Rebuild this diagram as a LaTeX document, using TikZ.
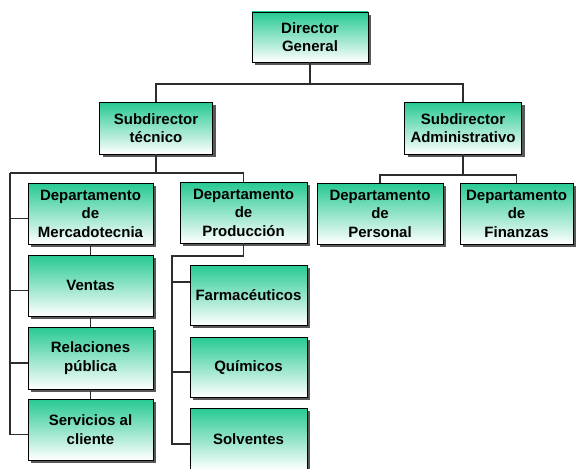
\documentclass[tikz,border=0pt]{standalone}
\usepackage{fontspec}
\setmainfont{Liberation Sans}
\usetikzlibrary{shadows}
\definecolor{verdeorg}{RGB}{38,201,146}
\definecolor{linea}{RGB}{45,45,45}
\tikzset{
  puesto/.style={draw=black, line width=0.9pt, top color=verdeorg, bottom color=white,
    align=center, inner sep=0pt, minimum width=125pt, minimum height=61pt,
    font=\bfseries\fontsize{15}{18.5}\selectfont,
    drop shadow={shadow xshift=3pt, shadow yshift=-3pt, fill=black!65, opacity=1}},
  enlace/.style={draw=linea, line width=1.1pt}
}
\begin{document}
\begin{tikzpicture}[x=1pt,y=-1pt]
\useasboundingbox (0,0) rectangle (577,468);
\fill[white] (0,0) rectangle (577,468);

% direccion
\node[puesto, minimum width=116pt, minimum height=50pt] (dg) at (310,37) {Director\\General};
\node[puesto, minimum width=113pt, minimum height=52pt] (subtec) at (156,128) {Subdirector\\técnico};
\node[puesto, minimum width=117pt, minimum height=52pt] (subadm) at (463,128) {Subdirector\\Administrativo};

% departamentos
\node[puesto] (merc) at (90.5,213.5) {Departamento\\de\\Mercadotecnia};
\node[puesto, minimum width=127pt] (prod) at (243.5,212.5) {Departamento\\de\\Producción};
\node[puesto, minimum width=126pt] (pers) at (380,213.5) {Departamento\\de\\Personal};
\node[puesto, minimum width=113pt] (fin) at (516.5,213.5) {Departamento\\de\\Finanzas};

% mercadotecnia
\node[puesto] (ventas) at (90.5,285.5) {Ventas};
\node[puesto, minimum height=62pt] (rel) at (90.5,358) {Relaciones\\pública};
\node[puesto] (serv) at (90.5,429.5) {Servicios al\\cliente};

% produccion
\node[puesto, minimum width=117pt, minimum height=60pt] (farm) at (248.5,295) {Farmacéuticos};
\node[puesto, minimum width=117pt, minimum height=60pt] (quim) at (248.5,367) {Químicos};
\node[puesto, minimum width=117pt, minimum height=62pt] (solv) at (248.5,439) {Solventes};

% conexiones
\coordinate (b0) at (0,84);
\coordinate (lb) at (10,173);
\coordinate (rb) at (0,175);
\coordinate (pb) at (172,256);
\foreach \n in {merc,ventas,rel,serv,quim,solv}
  \coordinate (\n-in) at ([yshift=-5pt]\n.west);
\coordinate (farm-in) at ([yshift=13pt]farm.west);

\draw[enlace] (dg.south) -- (dg.south |- b0);
\draw[enlace] (subtec.north) |- (subadm.north |- b0) -- (subadm.north);

\draw[enlace] (subtec.south) -- (subtec.south |- lb);
\draw[enlace] (lb) -| (prod.north);
\draw[enlace] (lb) |- (serv-in);
\foreach \n in {merc,ventas,rel}
  \draw[enlace] (lb |- \n-in) -- (\n-in);
\draw[enlace] (merc) -- (ventas);
\draw[enlace] (ventas) -- (rel);
\draw[enlace] (rel) -- (serv);

\draw[enlace] (prod.south) |- (pb) |- (solv-in);
\foreach \n in {farm,quim}
  \draw[enlace] (pb |- \n-in) -- (\n-in);

\draw[enlace] (subadm.south) -- (subadm.south |- rb);
\draw[enlace] (pers.north) |- (fin.north |- rb) -- (fin.north);
\end{tikzpicture}
\end{document}
